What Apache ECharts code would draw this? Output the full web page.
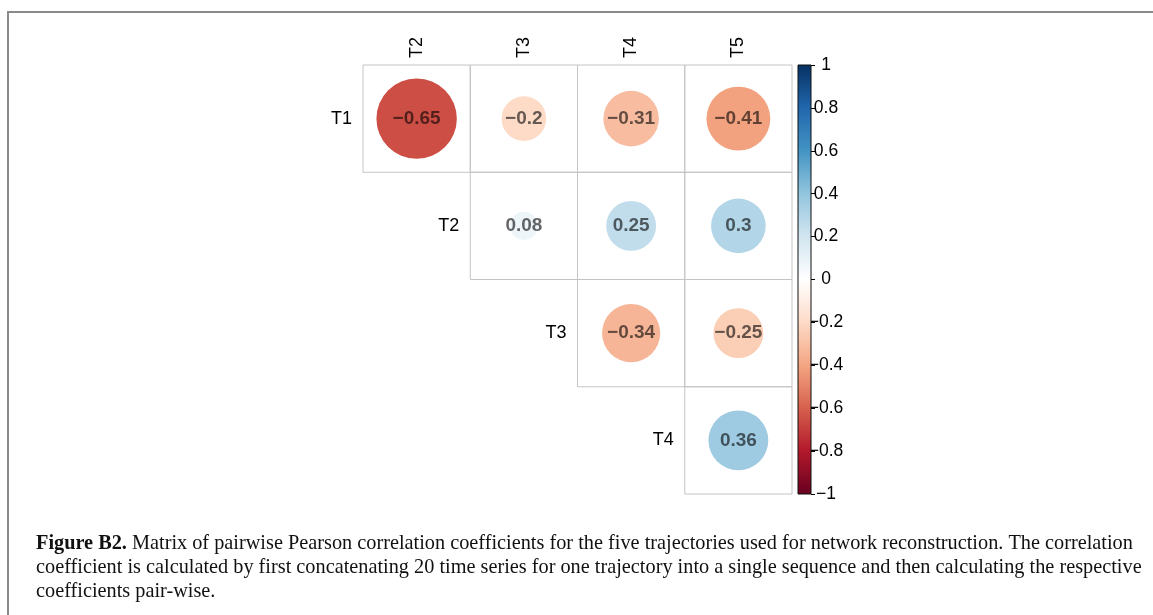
<!DOCTYPE html>
<html>
<head>
<meta charset="utf-8">
<script src="https://cdn.jsdelivr.net/npm/echarts@6/dist/echarts.min.js"></script>
<style>
html,body{margin:0;padding:0;background:#fff;}
#chart{width:1153px;height:615px;}
</style>
</head>
<body>
<div id="chart"></div>
<script>
// ---- data ----
const colLabels = ['T2', 'T3', 'T4', 'T5'];
const rowLabels = ['T1', 'T2', 'T3', 'T4'];
const corrT1 = [-0.65, -0.2, -0.31, -0.41]; // T1 vs T2..T5
const corrT2 = [0.08, 0.25, 0.3];           // T2 vs T3..T5
const corrT3 = [-0.34, -0.25];              // T3 vs T4..T5
const corrT4 = [0.36];                      // T4 vs T5
const colorbarTicks = [-1, -0.8, -0.6, -0.4, -0.2, 0, 0.2, 0.4, 0.6, 0.8, 1];
const palette = ['#67001F', '#B2182B', '#D6604D', '#F4A582', '#FDDBC7', '#FFFFFF',
                 '#D1E5F0', '#92C5DE', '#4393C3', '#2166AC', '#053061'];
const captionLines = [
  '{b|Figure B2.} Matrix of pairwise Pearson correlation coefficients for the five trajectories used for network reconstruction. The correlation',
  'coefficient is calculated by first concatenating 20 time series for one trajectory into a single sequence and then calculating the respective',
  'coefficients pair-wise.'
];

// ---- build ----
const rows = [corrT1, corrT2, corrT3, corrT4];
const cellData = [];
rows.forEach((vals, i) => {
  vals.forEach((v, k) => { cellData.push([i + k, i, v]); });
});
const rowLabelData = rowLabels.map((l, i) => [i, i, l]);
const fmt = v => String(v).replace('-', '\u2212');

const chart = echarts.init(document.getElementById('chart'), null, {renderer: 'canvas'});
const gradStops = palette.slice().reverse().map((c, i) => ({offset: i / (palette.length - 1), color: c}));

const option = {
  backgroundColor: '#fff',
  animation: false,
  grid: [
    {left: 363, top: 65, width: 429, height: 429},
    {left: 798, top: 65, width: 13, height: 429}
  ],
  xAxis: [
    {type: 'category', gridIndex: 0, data: colLabels, position: 'top', boundaryGap: true,
     axisLine: {show: false}, axisTick: {show: false}, splitLine: {show: false},
     axisLabel: {rotate: -90, margin: 7, color: '#000', fontSize: 18, fontFamily: 'Liberation Sans'}},
    {type: 'category', gridIndex: 1, data: [''], show: false}
  ],
  yAxis: [
    {type: 'category', gridIndex: 0, data: rowLabels, inverse: true,
     axisLine: {show: false}, axisTick: {show: false}, axisLabel: {show: false}, splitLine: {show: false}},
    {type: 'value', gridIndex: 1, min: -1, max: 1, interval: 0.2, position: 'right',
     axisLine: {show: false}, splitLine: {show: false},
     axisTick: {show: true, length: 4, lineStyle: {color: '#000', width: 1}},
     axisLabel: {margin: 15, align: 'center', color: '#000', fontSize: 17.5, fontFamily: 'Liberation Sans',
       formatter: v => fmt(Math.round(v * 10) / 10)}}
  ],
  visualMap: {
    show: false, type: 'continuous', min: -1, max: 1, dimension: 2, seriesIndex: 1,
    inRange: {color: palette}
  },
  graphic: [
    {type: 'polyline', shape: {points: [[8, 615], [8, 12], [1153, 12]]},
     style: {stroke: '#8a8a8a', lineWidth: 2, fill: null}, silent: true},
    {type: 'text', left: 36, top: 532,
     style: {text: captionLines.join('\n'), fill: '#111', fontFamily: 'Liberation Serif', fontSize: 20.3,
       lineHeight: 24, rich: {b: {fontWeight: 'bold', fontFamily: 'Liberation Serif', fontSize: 20.3, lineHeight: 24}}}}
  ],
  series: [
    { // cell borders
      type: 'custom', xAxisIndex: 0, yAxisIndex: 0, data: cellData, silent: true, z: 1,
      renderItem: (params, api) => {
        const c = api.coord([api.value(0), api.value(1)]);
        const s = api.size([1, 1]);
        return {type: 'rect', shape: {x: c[0] - s[0] / 2, y: c[1] - s[1] / 2, width: s[0], height: s[1]},
          style: {fill: null, stroke: '#c4c4c4', lineWidth: 1}};
      }
    },
    { // circles with coefficients
      type: 'custom', xAxisIndex: 0, yAxisIndex: 0, data: cellData, z: 2,
      renderItem: (params, api) => {
        const c = api.coord([api.value(0), api.value(1)]);
        const s = api.size([1, 1]);
        const v = api.value(2);
        const r = 0.465 * s[0] * Math.sqrt(Math.abs(v));
        return {type: 'group', children: [
          {type: 'circle', shape: {cx: c[0], cy: c[1], r: r}, style: {fill: api.visual('color')}},
          {type: 'text', x: c[0], y: c[1], style: {text: fmt(v), fill: 'rgba(0,0,0,0.6)',
            fontFamily: 'Liberation Sans', fontWeight: 'bold', fontSize: 19, align: 'center', verticalAlign: 'middle'}}
        ]};
      }
    },
    { // row labels placed at diagonal
      type: 'custom', xAxisIndex: 0, yAxisIndex: 0, data: rowLabelData, z: 3,
      renderItem: (params, api) => {
        const c = api.coord([api.value(0), api.value(1)]);
        const s = api.size([1, 1]);
        return {type: 'text', x: c[0] - s[0] / 2 - 11, y: c[1],
          style: {text: rowLabels[params.dataIndex], fill: '#000', fontFamily: 'Liberation Sans', fontSize: 18,
            align: 'right', verticalAlign: 'middle'}};
      }
    },
    { // colour bar
      type: 'custom', xAxisIndex: 1, yAxisIndex: 1, data: [[0, colorbarTicks[0], colorbarTicks[colorbarTicks.length - 1]]], z: 2,
      renderItem: (params, api) => {
        const top = api.coord([0, api.value(2)]);
        const bot = api.coord([0, api.value(1)]);
        const w = api.size([1, 0])[0];
        return {type: 'rect', shape: {x: top[0] - w / 2, y: top[1], width: w, height: bot[1] - top[1]},
          style: {fill: new echarts.graphic.LinearGradient(0, 0, 0, 1, gradStops), stroke: '#111', lineWidth: 1}};
      }
    }
  ]
};
chart.setOption(option);
</script>
</body>
</html>
